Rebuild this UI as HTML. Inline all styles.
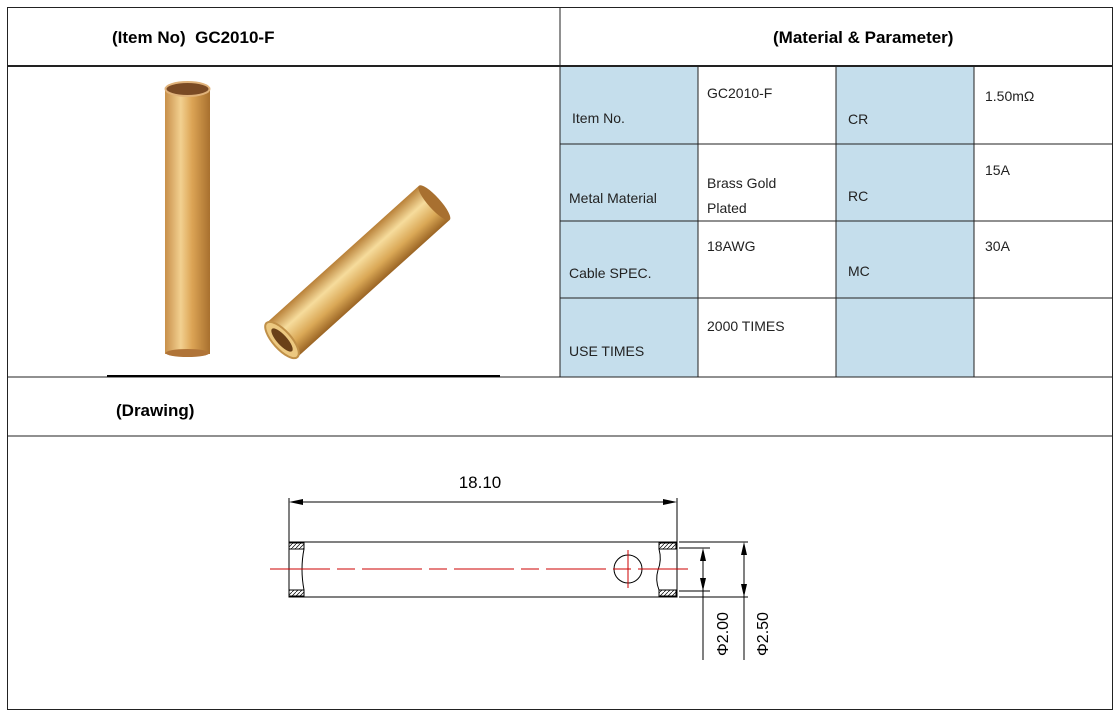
<!DOCTYPE html>
<html><head><style>body{margin:0;background:#fff}svg{display:block}text{font-family:"Liberation Sans",sans-serif}</style></head><body>
<svg width="1118" height="719" viewBox="0 0 1118 719" xmlns="http://www.w3.org/2000/svg">
<defs>
<linearGradient id="g1" x1="0" x2="1" y1="0" y2="0"><stop offset="0" stop-color="#c8904a"/><stop offset=".35" stop-color="#f2d090"/><stop offset=".6" stop-color="#dca455"/><stop offset="1" stop-color="#a8702e"/></linearGradient>
<linearGradient id="g2" x1="0" x2="0" y1="0" y2="1"><stop offset="0" stop-color="#b88038"/><stop offset=".35" stop-color="#f6dc9c"/><stop offset=".7" stop-color="#daa856"/><stop offset="1" stop-color="#9a6424"/></linearGradient>
<pattern id="h" width="4" height="4" patternUnits="userSpaceOnUse"><path d="M0 4L4 0" stroke="#000" stroke-width=".7"/></pattern>
</defs>
<rect x="560" y="66" width="138" height="311" fill="#c5deec"/>
<rect x="836" y="66" width="138" height="311" fill="#c5deec"/>
<g stroke="#222" fill="none" stroke-width="1">
<rect x="7.5" y="7.5" width="1105" height="702"/>
<line x1="560" y1="7" x2="560" y2="377"/>
<line x1="7" y1="66" x2="1113" y2="66" stroke-width="2"/>
<line x1="7" y1="377" x2="1113" y2="377"/>
<line x1="7" y1="436" x2="1113" y2="436"/>
<line x1="698" y1="66" x2="698" y2="377"/><line x1="836" y1="66" x2="836" y2="377"/><line x1="974" y1="66" x2="974" y2="377"/>
<line x1="560" y1="144" x2="1113" y2="144"/><line x1="560" y1="221" x2="1113" y2="221"/><line x1="560" y1="298" x2="1113" y2="298"/>
</g>
<line x1="107" y1="376" x2="500" y2="376" stroke="#000" stroke-width="2"/>
<text x="112" y="43" font-size="17" font-weight="bold" xml:space="preserve">(Item No)  GC2010-F</text>
<text x="773" y="43" font-size="17" font-weight="bold">(Material &amp; Parameter)</text>
<text x="116" y="416" font-size="17" font-weight="bold">(Drawing)</text>
<g font-size="14" fill="#222">
<text x="572" y="123">Item No.</text><text x="707" y="98">GC2010-F</text><text x="848" y="124">CR</text><text x="985" y="101">1.50mΩ</text>
<text x="569" y="203">Metal Material</text><text x="707" y="188">Brass Gold</text><text x="707" y="213">Plated</text><text x="848" y="201">RC</text><text x="985" y="175">15A</text>
<text x="569" y="278">Cable SPEC.</text><text x="707" y="251">18AWG</text><text x="848" y="276">MC</text><text x="985" y="251">30A</text>
<text x="569" y="356">USE TIMES</text><text x="707" y="331">2000 TIMES</text>
</g>
<rect x="165" y="88" width="45" height="266" fill="url(#g1)"/>
<ellipse cx="187.5" cy="89" rx="22" ry="7" fill="#7a4a24" stroke="#e0b27a" stroke-width="2"/>
<ellipse cx="187.5" cy="353" rx="22" ry="4" fill="#b07438"/>
<g transform="translate(282,340) rotate(-42)">
<rect x="0" y="-23" width="205" height="46" fill="url(#g2)"/>
<ellipse cx="205" cy="0" rx="6" ry="23" fill="#a87030"/>
<ellipse cx="0" cy="0" rx="9" ry="23" fill="#ecc880" stroke="#c09048" stroke-width="2"/>
<ellipse cx="0" cy="0" rx="5" ry="15" fill="#6a4018"/>
</g>
<g stroke="#000" stroke-width="1" fill="none">
<rect x="289" y="542" width="388" height="55"/>
<rect x="289" y="543" width="15" height="6" fill="url(#h)"/><rect x="289" y="590" width="15" height="6" fill="url(#h)"/>
<rect x="659" y="543" width="17" height="6" fill="url(#h)"/><rect x="659" y="590" width="17" height="6" fill="url(#h)"/>
<path d="M304 549Q300 569 304 590"/><path d="M659 549Q662 560 658 570Q655 580 659 590"/>
<line x1="289" y1="542" x2="289" y2="498"/><line x1="677" y1="542" x2="677" y2="498"/>
<line x1="295" y1="502" x2="671" y2="502"/>
<line x1="679" y1="548" x2="710" y2="548"/><line x1="679" y1="591" x2="710" y2="591"/>
<line x1="679" y1="542" x2="748" y2="542"/><line x1="679" y1="597" x2="748" y2="597"/>
<line x1="703" y1="554" x2="703" y2="660"/><line x1="744" y1="548" x2="744" y2="660"/>
<circle cx="628" cy="569" r="14"/>
</g>
<g fill="#000">
<path d="M289 502l14-3v6z"/><path d="M677 502l-14-3v6z"/>
<path d="M703 548l-3 13h6z"/><path d="M703 591l-3-13h6z"/>
<path d="M744 542l-3 13h6z"/><path d="M744 597l-3-13h6z"/>
</g>
<line x1="270" y1="569" x2="688" y2="569" stroke="#c00" stroke-width="1" stroke-dasharray="60,7,18,7"/>
<line x1="628" y1="550" x2="628" y2="588" stroke="#c00" stroke-width="1"/>
<text x="480" y="488" font-size="17" text-anchor="middle">18.10</text>
<text transform="translate(728,634) rotate(-90)" font-size="16" text-anchor="middle">Φ2.00</text>
<text transform="translate(768,634) rotate(-90)" font-size="16" text-anchor="middle">Φ2.50</text>
</svg>
</body></html>
